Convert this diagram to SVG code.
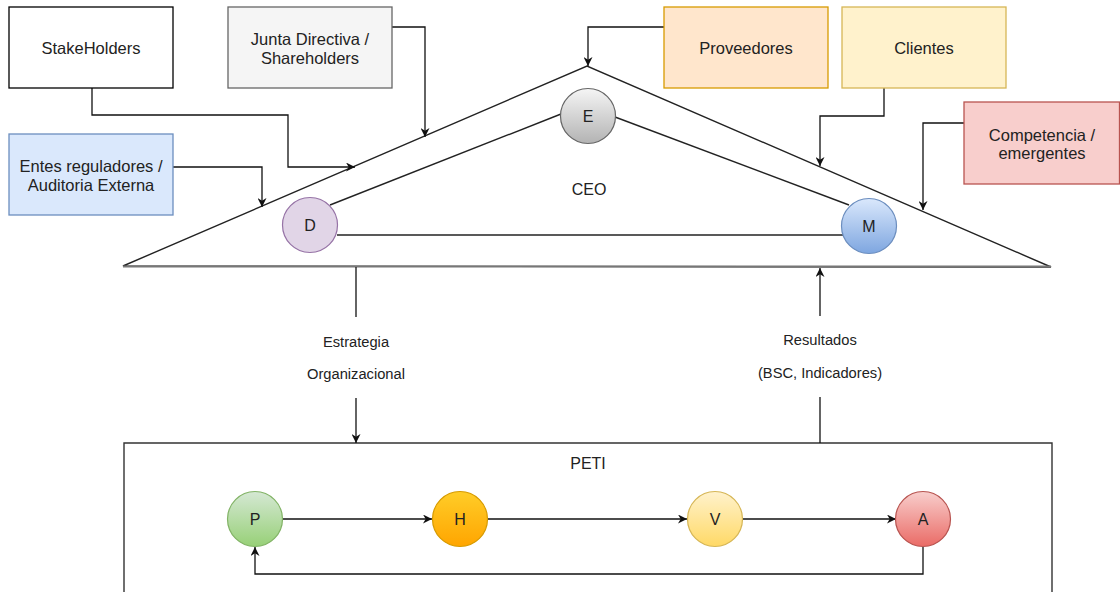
<svg xmlns="http://www.w3.org/2000/svg" width="1120" height="592" viewBox="0 0 1120 592">
<style>
  text { font-family: "Liberation Sans", Arial, sans-serif; fill: #222; text-anchor: middle; dominant-baseline: central; }
  .box { font-size: 16.5px; }
  .lbl { font-size: 14.7px; }
  .circ { font-size: 16px; }
  .conn { fill: none; stroke: #111; stroke-width: 1.3; }
  .tri { fill: none; stroke: #222; stroke-width: 1.4; }
</style>
<defs>
  <marker id="arr" viewBox="0 0 10 10" refX="10" refY="5" markerWidth="10" markerHeight="9" markerUnits="userSpaceOnUse" orient="auto">
    <path d="M0,0 L10,5 L0,10 L3,5 z" fill="#111"/>
  </marker>
  <linearGradient id="gE" x1="0" y1="0" x2="0" y2="1"><stop offset="0" stop-color="#f5f5f5"/><stop offset="1" stop-color="#b3b3b3"/></linearGradient>
  <linearGradient id="gM" x1="0" y1="0" x2="0" y2="1"><stop offset="0" stop-color="#dae8fc"/><stop offset="1" stop-color="#7ea6e0"/></linearGradient>
  <linearGradient id="gP" x1="0" y1="0" x2="0" y2="1"><stop offset="0" stop-color="#d5e8d4"/><stop offset="1" stop-color="#97d077"/></linearGradient>
  <linearGradient id="gH" x1="0" y1="0" x2="0" y2="1"><stop offset="0" stop-color="#ffcd28"/><stop offset="1" stop-color="#ffa500"/></linearGradient>
  <linearGradient id="gV" x1="0" y1="0" x2="0" y2="1"><stop offset="0" stop-color="#fff2cc"/><stop offset="1" stop-color="#ffd966"/></linearGradient>
  <linearGradient id="gA" x1="0" y1="0" x2="0" y2="1"><stop offset="0" stop-color="#f8cecc"/><stop offset="1" stop-color="#ea6b66"/></linearGradient>
</defs>
<rect width="1120" height="592" fill="#fff"/>

<g id="peti-frame">
  <path d="M124,592 V443 H1052 V592" fill="#fff" stroke="#333" stroke-width="1.4"/>
  <text class="circ" x="588" y="463">PETI</text>
</g>

<g id="ceo-triangle">
  <polygon points="123,266 587,66 1051,267" class="tri" fill="#fff"/>
  <line x1="123" y1="266.5" x2="1051" y2="266.5" stroke="#777" stroke-width="2.2"/>
  <line x1="330" y1="205" x2="561" y2="114" class="tri"/>
  <line x1="615" y1="117" x2="849" y2="205" class="tri"/>
  <line x1="337" y1="235" x2="843" y2="235" class="tri"/>
  <text class="circ" x="589" y="189">CEO</text>
</g>

<g id="connectors">
  <path class="conn" d="M92,88 V115 H288 V167 H355" marker-end="url(#arr)"/>
  <path class="conn" d="M392,27 H425 V137" marker-end="url(#arr)"/>
  <path class="conn" d="M173,167 H262 V207" marker-end="url(#arr)"/>
  <path class="conn" d="M664,27 H588 V66" marker-end="url(#arr)"/>
  <path class="conn" d="M884,88 V116 H820 V166" marker-end="url(#arr)"/>
  <path class="conn" d="M964,123 H923 V210" marker-end="url(#arr)"/>
  <path class="conn" d="M356,267 V317"/>
  <path class="conn" d="M356,398 V443" marker-end="url(#arr)"/>
  <path class="conn" d="M820,443 V397"/>
  <path class="conn" d="M820,316 V268" marker-end="url(#arr)"/>
  <path class="conn" d="M283,519 H432" marker-end="url(#arr)"/>
  <path class="conn" d="M488,519 H687" marker-end="url(#arr)"/>
  <path class="conn" d="M743,519 H896" marker-end="url(#arr)"/>
  <path class="conn" d="M923,547 V574 H255 V547" marker-end="url(#arr)"/>
  <text class="lbl" x="356" y="342">Estrategia</text>
  <text class="lbl" x="356" y="374">Organizacional</text>
  <text class="lbl" x="820" y="340">Resultados</text>
  <text class="lbl" x="820" y="373">(BSC, Indicadores)</text>
</g>

<g id="stakeholders">
  <rect x="9" y="7" width="164" height="81" fill="#fff" stroke="#000" stroke-width="1.3"/>
  <text class="box" x="91" y="48">StakeHolders</text>
</g>
<g id="junta">
  <rect x="228" y="7" width="164" height="81" fill="#f5f5f5" stroke="#666" stroke-width="1.3"/>
  <text class="box" x="310" y="39">Junta Directiva /</text>
  <text class="box" x="310" y="58">Shareholders</text>
</g>
<g id="entes">
  <rect x="9" y="134" width="164" height="81" fill="#dae8fc" stroke="#6c8ebf" stroke-width="1.3"/>
  <text class="box" x="91" y="166">Entes reguladores /</text>
  <text class="box" x="91" y="185">Auditoria Externa</text>
</g>
<g id="proveedores">
  <rect x="664" y="7" width="164" height="81" fill="#ffe6cc" stroke="#d79b00" stroke-width="1.3"/>
  <text class="box" x="746" y="48">Proveedores</text>
</g>
<g id="clientes">
  <rect x="842" y="7" width="164" height="81" fill="#fff2cc" stroke="#d6b656" stroke-width="1.3"/>
  <text class="box" x="924" y="48">Clientes</text>
</g>
<g id="competencia">
  <rect x="964" y="102" width="155.5" height="82" fill="#f8cecc" stroke="#b85450" stroke-width="1.3"/>
  <text class="box" x="1042" y="135">Competencia /</text>
  <text class="box" x="1042" y="153">emergentes</text>
</g>

<g id="node-E">
  <circle cx="588" cy="116" r="27.5" fill="url(#gE)" stroke="#666" stroke-width="1.2"/>
  <text class="circ" x="588" y="116">E</text>
</g>
<g id="node-D">
  <circle cx="310" cy="225" r="27.5" fill="#e1d5e7" stroke="#9673a6" stroke-width="1.2"/>
  <text class="circ" x="310" y="225">D</text>
</g>
<g id="node-M">
  <circle cx="869" cy="226" r="27.5" fill="url(#gM)" stroke="#6c8ebf" stroke-width="1.2"/>
  <text class="circ" x="869" y="226">M</text>
</g>

<g id="node-P">
  <circle cx="255" cy="519" r="27.5" fill="url(#gP)" stroke="#82b366" stroke-width="1.2"/>
  <text class="circ" x="255" y="519">P</text>
</g>
<g id="node-H">
  <circle cx="460" cy="519" r="27.5" fill="url(#gH)" stroke="#d79b00" stroke-width="1.2"/>
  <text class="circ" x="460" y="519">H</text>
</g>
<g id="node-V">
  <circle cx="715" cy="519" r="27.5" fill="url(#gV)" stroke="#d6b656" stroke-width="1.2"/>
  <text class="circ" x="715" y="519">V</text>
</g>
<g id="node-A">
  <circle cx="923" cy="519" r="27.5" fill="url(#gA)" stroke="#b85450" stroke-width="1.2"/>
  <text class="circ" x="923" y="519">A</text>
</g>
</svg>
